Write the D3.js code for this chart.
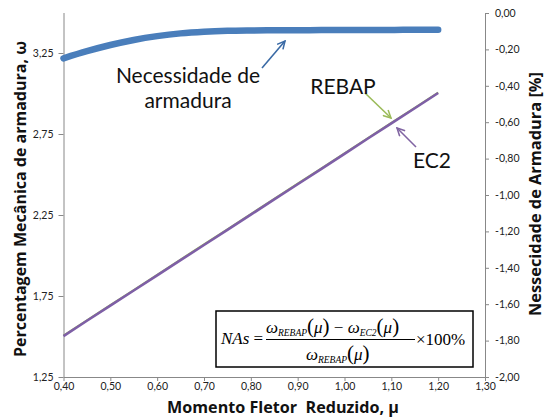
<!DOCTYPE html>
<html><head><meta charset="utf-8">
<script src="https://cdn.jsdelivr.net/npm/d3@7"></script>
<style>body{margin:0;background:#fff}svg{display:block}</style>
</head><body>
<script>
// ---- data ----
const mu = [0.40,0.45,0.50,0.55,0.60,0.65,0.70,0.75,0.80,0.85,0.90,0.95,1.00,1.05,1.10,1.15,1.20];
const omegaREBAP = [1.500,1.594,1.688,1.781,1.875,1.969,2.063,2.156,2.250,2.344,2.438,2.531,2.625,2.719,2.813,2.906,3.000];
const omegaEC2   = [1.502,1.597,1.691,1.784,1.877,1.971,2.065,2.158,2.252,2.346,2.440,2.533,2.627,2.722,2.816,2.909,3.003];
const nas = [-0.249,-0.210,-0.176,-0.148,-0.127,-0.112,-0.103,-0.098,-0.096,-0.095,-0.095,-0.094,-0.094,-0.093,-0.093,-0.092,-0.092];
const xTicks = [0.40,0.50,0.60,0.70,0.80,0.90,1.00,1.10,1.20,1.30];
const yLeftTicks = [1.25,1.75,2.25,2.75,3.25];
const yRightTicks = [0,-0.2,-0.4,-0.6,-0.8,-1.0,-1.2,-1.4,-1.6,-1.8,-2.0];

const W=551,H=417;
const svg=d3.select("body").append("svg").attr("width",W).attr("height",H);
const x=d3.scaleLinear().domain([0.4,1.3]).range([63.5,485]);
const yL=d3.scaleLinear().domain([1.25,3.5]).range([377,12.5]);
const yR=d3.scaleLinear().domain([-2,0]).range([377,13]);
const fmt=v=>d3.format(".2f")(Math.abs(v)).replace(".",",").replace(/^/, v<-1e-9?"-":"");
const sans="Lato, 'Open Sans', 'Liberation Sans', sans-serif";
const bold="'Open Sans', 'DejaVu Sans', sans-serif";
const axisCol="#888";

function fit(sel,target){
  const n=sel.node(); const s=parseFloat(sel.style("font-size"));
  const w=n.getComputedTextLength(); if(w>0) sel.style("font-size",(s*target/w).toFixed(2)+"px");
  return sel;
}
function styleAxis(g){
  g.select(".domain").attr("stroke",axisCol);
  g.selectAll(".tick line").attr("stroke",axisCol);
  g.selectAll(".tick text").attr("fill","#222").style("font-family",sans).style("font-size","10.5px");
}
svg.append("g").attr("transform","translate(0,377)")
  .call(d3.axisBottom(x).tickValues(xTicks).tickFormat(fmt).tickSize(4).tickSizeOuter(0).tickPadding(2))
  .call(styleAxis);
svg.append("g").attr("transform","translate(63.5,0)")
  .call(d3.axisLeft(yL).tickValues(yLeftTicks).tickFormat(fmt).tickSize(5).tickSizeOuter(0).tickPadding(5))
  .call(styleAxis);
svg.append("g").attr("transform","translate(485,0)")
  .call(d3.axisRight(yR).tickValues(yRightTicks).tickFormat(fmt).tickSize(4).tickSizeOuter(0).tickPadding(6))
  .call(styleAxis);

// lines
const idx=d3.range(mu.length);
svg.append("path").datum(idx).attr("fill","none").attr("stroke","#9BBB59").attr("stroke-width",2)
  .attr("d",d3.line().x(i=>x(mu[i])).y(i=>yL(omegaREBAP[i])-1));
svg.append("path").datum(idx).attr("fill","none").attr("stroke","#7E5FA6").attr("stroke-width",2.6)
  .attr("d",d3.line().x(i=>x(mu[i])).y(i=>yL(omegaEC2[i])));
svg.append("path").datum(idx).attr("fill","none").attr("stroke","#4A7EBB").attr("stroke-width",6.5)
  .attr("stroke-linecap","round")
  .attr("d",d3.line().curve(d3.curveMonotoneX).x(i=>x(mu[i])).y(i=>yR(nas[i])));

// annotations
const defs=svg.append("defs");
function marker(id,col){
  defs.append("marker").attr("id",id).attr("viewBox","0 0 10 10").attr("refX",9).attr("refY",5)
   .attr("markerWidth",6).attr("markerHeight",6).attr("orient","auto")
   .append("path").attr("d","M1,1 L9,5 L1,9").attr("fill","none").attr("stroke",col).attr("stroke-width",1.6);
}
marker("mb","#3A6AA5");marker("mg","#9BBB59");marker("mp","#8064A2");
svg.append("line").attr("x1",262).attr("y1",68).attr("x2",285).attr("y2",41).attr("stroke","#3A6AA5").attr("stroke-width",1.6).attr("marker-end","url(#mb)");
svg.append("line").attr("x1",365).attr("y1",93).attr("x2",391).attr("y2",118).attr("stroke","#9BBB59").attr("stroke-width",1.6).attr("marker-end","url(#mg)");
svg.append("line").attr("x1",416).attr("y1",147).attr("x2",397).attr("y2",128).attr("stroke","#8064A2").attr("stroke-width",1.6).attr("marker-end","url(#mp)");

const lab=(t,xx,yy)=>svg.append("text").attr("x",xx).attr("y",yy).attr("text-anchor","middle")
  .style("font-family",sans).style("font-size","21px").attr("fill","#111").text(t);
lab("Necessidade de",188,83);
lab("armadura",188,108);
lab("REBAP",343,94);
lab("EC2",432,168);

// axis titles
fit(svg.append("text").attr("transform","translate(26,199) rotate(-90)").attr("text-anchor","middle")
  .style("font-family",bold).style("font-size","16px").style("font-weight","bold").attr("fill","#111")
  .text("Percentagem Mecânica de armadura, ω"),316);
fit(svg.append("text").attr("transform","translate(541,194) rotate(-90)").attr("text-anchor","middle")
  .style("font-family",bold).style("font-size","14px").style("font-weight","bold").attr("fill","#111")
  .text("Nessecidade de Armadura [%]"),244);
fit(svg.append("text").attr("x",283).attr("y",412.5).attr("text-anchor","middle")
  .style("font-family",bold).style("font-size","16px").style("font-weight","bold").attr("fill","#111")
  .attr("xml:space","preserve").text("Momento Fletor  Reduzido, μ"),232);

// formula box
svg.append("rect").attr("x",216).attr("y",311).attr("width",257).attr("height",56).attr("fill","#fff").attr("stroke","#000").attr("stroke-width",1.5);
const serif="'Liberation Serif','Times New Roman',serif";
const f=svg.append("g").style("font-family",serif).attr("fill","#000");
f.append("text").attr("x",221).attr("y",344).style("font-size","17px")
  .html('<tspan font-style="italic">NAs</tspan> =');
const num=f.append("text").attr("x",266).attr("y",333).style("font-size","17px");
num.html('<tspan font-style="italic">ω</tspan><tspan font-style="italic" font-size="9.5px" dy="3">REBAP</tspan><tspan dy="-3" font-size="21px">(</tspan><tspan font-style="italic">μ</tspan><tspan font-size="21px">)</tspan><tspan> − </tspan><tspan font-style="italic">ω</tspan><tspan font-style="italic" font-size="9.5px" dy="3">EC2</tspan><tspan dy="-3" font-size="21px">(</tspan><tspan font-style="italic">μ</tspan><tspan font-size="21px">)</tspan>');
f.append("line").attr("x1",266).attr("x2",415).attr("y1",339.5).attr("y2",339.5).attr("stroke","#000").attr("stroke-width",1);
f.append("text").attr("x",306).attr("y",360).style("font-size","17px")
  .html('<tspan font-style="italic">ω</tspan><tspan font-style="italic" font-size="9.5px" dy="3">REBAP</tspan><tspan dy="-3" font-size="21px">(</tspan><tspan font-style="italic">μ</tspan><tspan font-size="21px">)</tspan>');
f.append("text").attr("x",416).attr("y",345).style("font-size","17px").text("×100%");
</script>
</body></html>
